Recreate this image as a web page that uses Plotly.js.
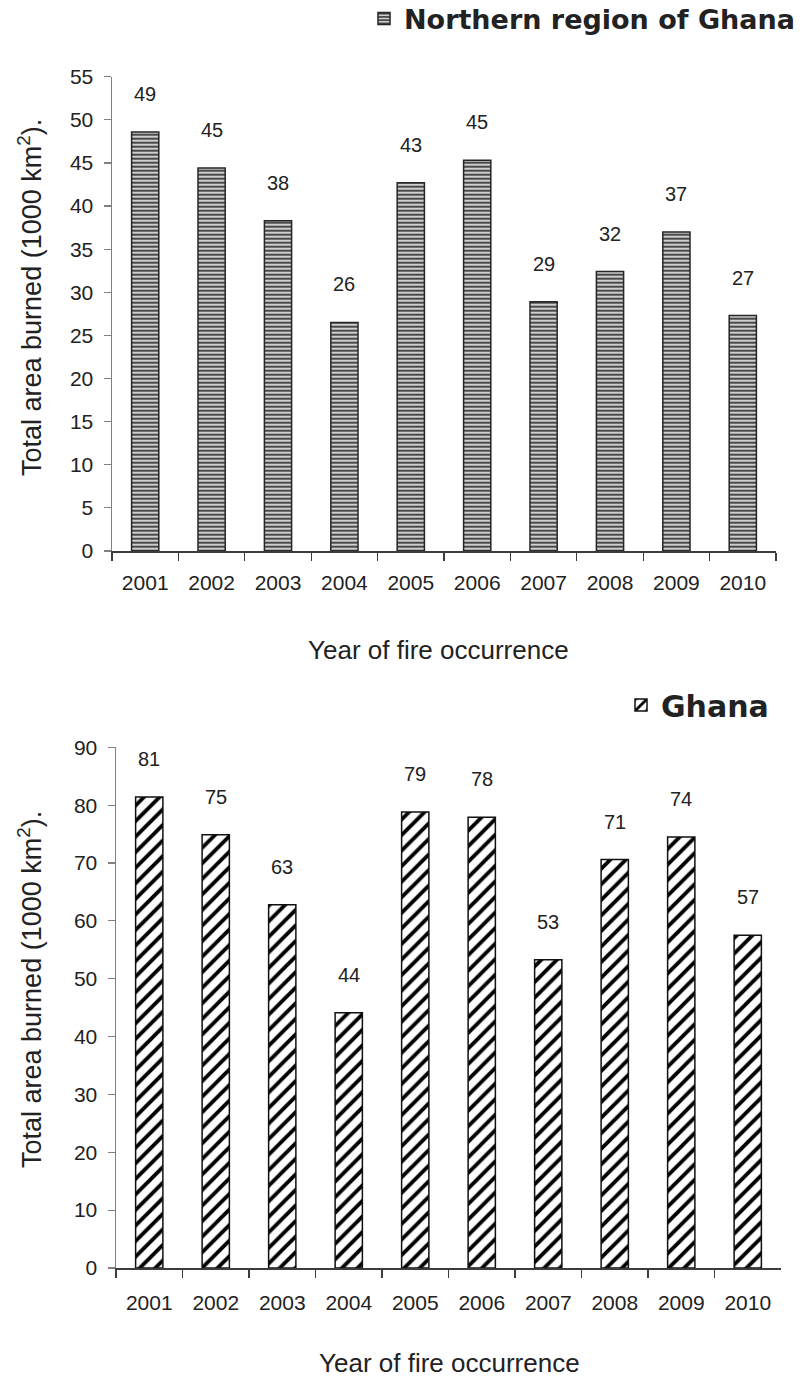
<!DOCTYPE html>
<html>
<head>
<meta charset="utf-8">
<script src="https://cdn.plot.ly/plotly-3.0.1.min.js"></script>
<style>html,body{margin:0;padding:0;background:#fff;}#chart{width:811px;height:1383px;}</style>
</head>
<body>
<div id="chart"></div>
<script>
// ---- Data ----
const years = ['2001','2002','2003','2004','2005','2006','2007','2008','2009','2010'];
const northernValues = [48.6, 44.4, 38.3, 26.5, 42.7, 45.3, 28.9, 32.4, 37.0, 27.3];
const northernLabels = ['49','45','38','26','43','45','29','32','37','27'];
const ghanaValues = [81.4, 74.9, 62.8, 44.1, 78.8, 77.9, 53.3, 70.6, 74.5, 57.5];
const ghanaLabels = ['81','75','63','44','79','78','53','71','74','57'];
const northernName = 'Northern region of Ghana';
const ghanaName = 'Ghana';
const yTitle = 'Total area burned (1000 km<sup>2</sup>).';
const xTitle = 'Year of fire occurrence';

const H = 1383, W = 811;
const FONT = 'Liberation Sans, Arial, sans-serif';
const TXT = '#222';

const traces = [
  {
    type: 'bar', x: years, y: northernValues, name: northernName,
    xaxis: 'x', yaxis: 'y', legend: 'legend',
    marker: {
      color: '#3a3a3a',
      line: {color: '#262626', width: 1.5},
      pattern: {shape: '-', bgcolor: '#cfcfcf', fgcolor: '#3a3a3a', size: 4, solidity: 0.45}
    },
    hoverinfo: 'x+y'
  },
  {
    type: 'bar', x: years, y: ghanaValues, name: ghanaName,
    xaxis: 'x2', yaxis: 'y2', legend: 'legend2',
    marker: {
      color: '#000',
      line: {color: '#111', width: 1.5},
      pattern: {shape: '/', bgcolor: '#fff', fgcolor: '#000', size: 11, solidity: 0.35}
    },
    hoverinfo: 'x+y'
  }
];

const annotations = [];
years.forEach((yr, i) => {
  // category axes: annotation x is the category's serial index
  annotations.push({x: i, y: northernValues[i], xref: 'x', yref: 'y', text: northernLabels[i],
    showarrow: false, yanchor: 'middle', yshift: 38, font: {family: FONT, size: 20, color: TXT}});
  annotations.push({x: i, y: ghanaValues[i], xref: 'x2', yref: 'y2', text: ghanaLabels[i],
    showarrow: false, yanchor: 'middle', yshift: 38, font: {family: FONT, size: 20, color: TXT}});
});
// axis titles
annotations.push({xref: 'paper', yref: 'paper', x: 438 / W, y: 1 - 650 / H, text: xTitle, showarrow: false,
  xanchor: 'center', yanchor: 'middle', font: {family: FONT, size: 26, color: TXT}});
annotations.push({xref: 'paper', yref: 'paper', x: 449 / W, y: 1 - 1363 / H, text: xTitle, showarrow: false,
  xanchor: 'center', yanchor: 'middle', font: {family: FONT, size: 26, color: TXT}});
annotations.push({xref: 'paper', yref: 'paper', x: 30 / W, y: 1 - 298 / H, text: yTitle, showarrow: false,
  textangle: -90, xanchor: 'center', yanchor: 'middle', font: {family: FONT, size: 27, color: TXT}});
annotations.push({xref: 'paper', yref: 'paper', x: 30 / W, y: 1 - 990 / H, text: yTitle, showarrow: false,
  textangle: -90, xanchor: 'center', yanchor: 'middle', font: {family: FONT, size: 27, color: TXT}});

function xAxis(domain, anchor, standoff) {
  return {
    domain: domain, anchor: anchor, type: 'category',
    categoryorder: 'array', categoryarray: years,
    range: [-0.5, years.length - 0.5], autorange: false,
    showline: true, linecolor: '#3c3c3c', linewidth: 1.5,
    ticks: 'outside', tickson: 'boundaries', ticklen: 8, tickcolor: '#3c3c3c', tickwidth: 1.2,
    showgrid: false, zeroline: false, tickangle: 0, automargin: false,
    tickfont: {family: FONT, size: 21, color: TXT}, ticklabelstandoff: standoff,
    fixedrange: true
  };
}
function yAxis(domain, anchor, range, dtick) {
  return {
    domain: domain, anchor: anchor, range: range, autorange: false, dtick: dtick, tick0: 0,
    showline: true, linecolor: '#808080', linewidth: 1.5,
    ticks: 'outside', ticklen: 7, tickcolor: '#808080', tickwidth: 1.2,
    showgrid: false, zeroline: false, automargin: false,
    tickfont: {family: FONT, size: 21, color: TXT}, ticklabelstandoff: 6,
    fixedrange: true
  };
}

const layout = {
  width: W, height: H,
  margin: {l: 0, r: 0, t: 0, b: 0, autoexpand: false},
  paper_bgcolor: '#fff', plot_bgcolor: '#fff',
  bargap: 0.59,
  showlegend: true,
  xaxis: xAxis([112 / W, 776 / W], 'y', 12),
  yaxis: yAxis([1 - 551 / H, 1 - 76.7 / H], 'x', [0, 55], 5),
  xaxis2: xAxis([116 / W, 781 / W], 'y2', 15),
  yaxis2: yAxis([1 - 1268 / H, 1 - 747.3 / H], 'x2', [0, 90], 10),
  legend: {xref: 'container', yref: 'container', x: 364 / W, xanchor: 'left', y: 1 - 19 / H, yanchor: 'middle',
    font: {family: 'DejaVu Sans, sans-serif', size: 27, color: TXT, weight: 'bold'},
    bgcolor: 'rgba(0,0,0,0)', borderwidth: 0},
  legend2: {xref: 'container', yref: 'container', x: 621 / W, xanchor: 'left', y: 1 - 705 / H, yanchor: 'middle',
    font: {family: 'DejaVu Sans, sans-serif', size: 30, color: TXT, weight: 'bold'},
    bgcolor: 'rgba(0,0,0,0)', borderwidth: 0},
  annotations: annotations
};

Plotly.newPlot('chart', traces, layout, {displayModeBar: false, staticPlot: true});
</script>
</body>
</html>
